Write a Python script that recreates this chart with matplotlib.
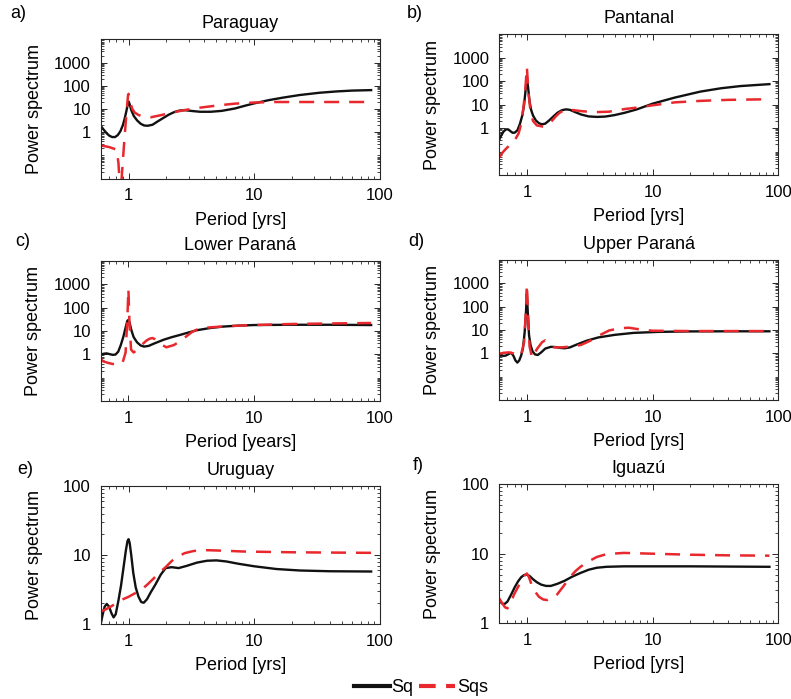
import matplotlib

matplotlib.use("Agg")
import matplotlib.pyplot as plt
from matplotlib.lines import Line2D
from matplotlib.ticker import LogLocator, NullFormatter

plt.rcParams["font.family"] = ["Liberation Sans", "DejaVu Sans"]

SQ_COLOR = "#111111"
SQS_COLOR = "#e8282d"

# a) Paraguay
PARAGUAY_SQ_PERIOD = [0.6, 0.62, 0.64, 0.67, 0.7, 0.74, 0.78, 0.82, 0.86, 0.9, 0.93, 0.96, 0.98,
                      1.0, 1.02, 1.05, 1.1, 1.17, 1.25, 1.33, 1.42, 1.55, 1.7, 1.9, 2.1, 2.3, 2.55,
                      2.8, 3.2, 3.7, 4.5, 5.5, 7, 8.5, 10, 13, 17, 23, 33, 45, 60, 85]
PARAGUAY_SQ = [1.9, 1.5, 1.2, 0.9, 0.72, 0.62, 0.62, 0.75, 1.1, 2.0, 3.8, 8, 14, 21, 16, 9, 5, 3.2,
               2.3, 1.95, 1.9, 2.1, 2.9, 4.2, 5.8, 7.3, 8.6, 8.9, 8.2, 7.6, 7.6, 8.3, 10.5, 14,
               17.5, 24, 31, 40, 50, 57, 62, 65]
PARAGUAY_SQS_PERIOD = [0.6, 0.7, 0.8, 0.83, 0.86, 0.88, 0.92, 0.96, 0.99, 1.0, 1.03, 1.07, 1.12,
                       1.2, 1.3, 1.5, 1.8, 2.2, 2.8, 3.5, 5, 7, 10, 15, 25, 40, 60, 85]
PARAGUAY_SQS = [0.27, 0.23, 0.18, 0.05, 0.002, 0.01, 0.3, 6, 40, 45, 20, 10, 7, 5.5, 4.8, 4.4, 5.4,
                7.0, 9.0, 11, 14, 17, 19, 20, 20, 20, 20, 20]

# b) Pantanal
PANTANAL_SQ_PERIOD = [0.6, 0.62, 0.65, 0.68, 0.71, 0.74, 0.77, 0.8, 0.84, 0.88, 0.92, 0.95, 0.98,
                      1.0, 1.02, 1.05, 1.08, 1.12, 1.18, 1.25, 1.32, 1.4, 1.5, 1.62, 1.75, 1.9,
                      2.05, 2.2, 2.4, 2.7, 3.1, 3.6, 4.2, 5, 6, 7.5, 10, 15, 24, 35, 50, 85]
PANTANAL_SQ = [0.3, 0.45, 0.7, 0.88, 0.88, 0.74, 0.63, 0.64, 0.8, 1.5, 3.5, 10, 50, 150, 60, 14, 6,
               3.4, 2.1, 1.6, 1.45, 1.55, 2.1, 3.1, 4.5, 5.8, 6.3, 6.0, 4.9, 3.8, 3.15, 3.0, 3.1,
               3.6, 4.5, 6.3, 11, 20, 36, 50, 62, 75]
PANTANAL_SQS_PERIOD = [0.6, 0.64, 0.68, 0.74, 0.8, 0.86, 0.9, 0.94, 0.97, 1.0, 1.03, 1.07, 1.12,
                       1.2, 1.35, 1.5, 1.6, 1.7, 1.82, 1.95, 2.1, 2.3, 2.8, 3.5, 4.5, 6, 8, 10,
                       15, 24, 40, 85]
PANTANAL_SQS = [0.055, 0.09, 0.13, 0.2, 0.3, 0.6, 1.5, 8, 40, 400, 30, 5, 2.0, 1.3, 1.15, 1.5, 2.2,
                3.2, 4.5, 5.6, 6.0, 5.9, 5.2, 4.8, 5.0, 6.5, 7.8, 9.4, 12.5, 14.5, 16, 17]

# c) Lower Paraná
LOWER_SQ_PERIOD = [0.6, 0.63, 0.67, 0.71, 0.75, 0.79, 0.83, 0.87, 0.91, 0.95, 0.98, 1.0, 1.02,
                   1.05, 1.1, 1.17, 1.25, 1.33, 1.45, 1.6, 1.9, 2.2, 2.6, 3.0, 3.5, 4.5, 5.7, 7.5,
                   10, 20, 40, 85]
LOWER_SQ = [0.95, 1.05, 1.1, 1.02, 0.95, 0.98, 1.3, 2.5, 5.5, 14, 27, 30, 24, 12, 5.5, 3.3, 2.4,
            2.15, 2.3, 2.9, 4.2, 5.4, 6.9, 8.6, 10.8, 13.5, 15.5, 17, 18, 18.5, 18.5, 18]
LOWER_SQS_PERIOD = [0.6, 0.63, 0.7, 0.78, 0.85, 0.9, 0.95, 0.98, 1.0, 1.02, 1.05, 1.1, 1.18, 1.25,
                    1.32, 1.4, 1.48, 1.55, 1.62, 1.7, 1.8, 2.0, 2.3, 2.6, 2.9, 3.2, 3.5, 4.2, 6,
                    10, 20, 40, 85]
LOWER_SQS = [0.65, 0.5, 0.42, 0.37, 0.36, 0.45, 1.2, 30, 630, 20, 1.6, 1.2, 1.6, 2.2, 3.0, 4.0,
             4.7, 5.0, 4.5, 3.6, 2.8, 2.0, 2.5, 3.8, 6, 9, 11.5, 14, 16, 18, 20, 21, 22]

# d) Upper Paraná
UPPER_SQ_PERIOD = [0.6, 0.62, 0.65, 0.68, 0.72, 0.75, 0.78, 0.81, 0.84, 0.87, 0.9, 0.93, 0.96,
                   0.98, 1.0, 1.02, 1.04, 1.07, 1.11, 1.16, 1.22, 1.3, 1.4, 1.55, 1.7, 1.85, 2.0,
                   2.2, 2.5, 3.0, 3.7, 5, 7, 11, 20, 40, 85]
UPPER_SQ = [0.78, 0.85, 0.78, 0.8, 0.95, 1.05, 0.8, 0.5, 0.4, 0.5, 0.8, 1.6, 8, 40, 360, 40, 6,
            2.2, 1.2, 0.9, 0.85, 1.1, 1.6, 1.9, 1.85, 1.7, 1.65, 1.8, 2.4, 3.5, 4.8, 6.2, 7.5,
            8.3, 8.7, 8.8, 8.8]
UPPER_SQS_PERIOD = [0.6, 0.65, 0.72, 0.78, 0.84, 0.9, 0.95, 0.98, 1.0, 1.02, 1.05, 1.1, 1.2, 1.32,
                    1.4, 1.5, 1.65, 1.9, 2.3, 2.7, 3.2, 3.8, 4.5, 5.5, 6.5, 8, 10, 20, 85]
UPPER_SQS = [0.95, 1.05, 1.1, 1.0, 0.75, 0.9, 3, 50, 900, 50, 2, 0.65, 1.5, 3.0, 3.6, 2.6, 1.8, 1.8,
             2.0, 2.3, 3.5, 6, 9.5, 12, 12.5, 10.5, 9.3, 9, 9]

# e) Uruguay
URUGUAY_SQ_PERIOD = [0.6, 0.62, 0.645, 0.67, 0.7, 0.73, 0.76, 0.79, 0.83, 0.87, 0.91, 0.95, 0.98,
                     1.0, 1.02, 1.05, 1.09, 1.14, 1.2, 1.26, 1.32, 1.4, 1.5, 1.64, 1.8, 1.97, 2.2,
                     2.5, 2.9, 3.5, 4.2, 5, 6, 7.5, 10, 15, 23, 40, 85]
URUGUAY_SQ = [1.0, 1.35, 1.8, 1.97, 1.8, 1.45, 1.26, 1.4, 2.2, 3.6, 6.5, 11.5, 16, 17, 15, 10, 5.5,
              3.4, 2.5, 2.1, 2.05, 2.3, 2.9, 3.8, 5.2, 6.5, 6.7, 6.5, 7.0, 7.8, 8.3, 8.4, 8.1,
              7.5, 6.9, 6.3, 6.0, 5.85, 5.8]
URUGUAY_SQS_PERIOD = [0.6, 0.66, 0.72, 0.81, 0.9, 1.0, 1.1, 1.25, 1.42, 1.64, 1.8, 1.97, 2.2, 2.44,
                      2.8, 3.3, 4.2, 5.7, 8, 10.6, 20, 40, 85]
URUGUAY_SQS = [1.52, 1.65, 1.8, 2.05, 2.3, 2.5, 2.75, 3.1, 3.8, 4.9, 5.8, 6.7, 8.2, 9.5, 10.7, 11.5,
               11.8, 11.6, 11.3, 11.2, 11.0, 10.9, 10.8]

# f) Iguazú
IGUAZU_SQ_PERIOD = [0.6, 0.63, 0.66, 0.7, 0.75, 0.8, 0.85, 0.9, 0.95, 1.0, 1.05, 1.12, 1.2, 1.3,
                    1.42, 1.55, 1.75, 2.0, 2.3, 2.67, 3.1, 3.6, 4.3, 5.9, 10, 20, 40, 85]
IGUAZU_SQ = [2.16, 1.95, 1.88, 2.05, 2.6, 3.3, 4.0, 4.6, 4.95, 5.0, 4.8, 4.3, 3.9, 3.6, 3.45, 3.45,
             3.7, 4.1, 4.7, 5.3, 5.9, 6.3, 6.5, 6.6, 6.6, 6.6, 6.55, 6.5]
IGUAZU_SQS_PERIOD = [0.6, 0.63, 0.67, 0.7, 0.74, 0.79, 0.84, 0.9, 0.95, 1.0, 1.04, 1.1, 1.17, 1.25,
                     1.35, 1.45, 1.6, 1.74, 1.95, 2.22, 2.45, 2.67, 3.1, 3.6, 4.3, 5.9, 10.7, 20,
                     40, 85]
IGUAZU_SQS = [2.3, 2.0, 1.7, 1.64, 1.9, 2.6, 3.2, 4.0, 4.8, 5.2, 4.6, 3.4, 2.8, 2.4, 2.2, 2.16, 2.3,
              2.6, 3.4, 4.7, 5.7, 6.5, 7.8, 9.0, 9.9, 10.3, 10.0, 9.7, 9.5, 9.4]

TITLES = ["Paraguay", "Pantanal", "Lower Paraná", "Upper Paraná", "Uruguay", "Iguazú"]
PANEL_LABELS = ["a)", "b)", "c)", "d)", "e)", "f)"]
XLABELS = ["Period [yrs]", "Period [yrs]", "Period [years]", "Period [yrs]", "Period [yrs]",
           "Period [yrs]"]
SQ_DATA = [
    (PARAGUAY_SQ_PERIOD, PARAGUAY_SQ),
    (PANTANAL_SQ_PERIOD, PANTANAL_SQ),
    (LOWER_SQ_PERIOD, LOWER_SQ),
    (UPPER_SQ_PERIOD, UPPER_SQ),
    (URUGUAY_SQ_PERIOD, URUGUAY_SQ),
    (IGUAZU_SQ_PERIOD, IGUAZU_SQ),
]
SQS_DATA = [
    (PARAGUAY_SQS_PERIOD, PARAGUAY_SQS),
    (PANTANAL_SQS_PERIOD, PANTANAL_SQS),
    (LOWER_SQS_PERIOD, LOWER_SQS),
    (UPPER_SQS_PERIOD, UPPER_SQS),
    (URUGUAY_SQS_PERIOD, URUGUAY_SQS),
    (IGUAZU_SQS_PERIOD, IGUAZU_SQS),
]
YTICKS_TOP = [1, 10, 100, 1000]
YTICKS_BOTTOM = [1, 10, 100]
XTICKS = [1, 10, 100]

W, H = 791, 699

# axes boxes in pixels: left, top, right, bottom
AX_BOXES = [
    (100.7, 39.3, 380, 178.7),
    (499, 34.3, 778.3, 175),
    (100.5, 261, 380, 401),
    (499, 260, 778.3, 400),
    (100.7, 486, 380, 624.3),
    (499, 484.3, 778.3, 623.3),
]
LABEL_POS = [(10, 13), (407, 13), (15, 242), (408, 241), (17, 469), (413, 466)]


def style_axes(ax, yticks):
    ax.set_xscale("log")
    ax.set_yscale("log")
    ax.set_xlim(0.6, 100)
    if len(yticks) == 4:
        ax.set_ylim(0.01, 1e4)
    else:
        ax.set_ylim(1, 100)

    ax.set_xticks(XTICKS, labels=[str(t) for t in XTICKS])
    ax.set_yticks(yticks, labels=[str(t) for t in yticks])
    ax.xaxis.set_minor_locator(LogLocator(base=10, subs=range(1, 10), numticks=20))
    ax.yaxis.set_minor_locator(LogLocator(base=10, subs=range(1, 10), numticks=20))
    ax.xaxis.set_minor_formatter(NullFormatter())
    ax.yaxis.set_minor_formatter(NullFormatter())

    ax.tick_params(which="both", direction="in", top=True, right=True,
                   colors="#262626", labelcolor="black", labelsize=12, pad=7)
    ax.tick_params(which="major", length=4, width=0.7)
    ax.tick_params(which="minor", length=2.5, width=0.6)
    for spine in ax.spines.values():
        spine.set_color("#262626")
        spine.set_linewidth(0.8)


def main():
    fig = plt.figure(figsize=(W / 100, H / 100), dpi=100)

    for i, (left, top, right, bottom) in enumerate(AX_BOXES):
        ax = fig.add_axes([left / W, 1 - bottom / H, (right - left) / W, (bottom - top) / H])
        yticks = YTICKS_TOP if i < 4 else YTICKS_BOTTOM

        ax.plot(*SQ_DATA[i], color=SQ_COLOR, linewidth=1.7)
        ax.plot(*SQS_DATA[i], color=SQS_COLOR, linewidth=1.8, linestyle=(0, (6, 4)))

        style_axes(ax, yticks)
        ax.set_title(TITLES[i], fontsize=13, pad=8)
        ax.set_xlabel(XLABELS[i], fontsize=13, labelpad=6)
        ax.set_ylabel("Power spectrum", fontsize=13)
        # the y label sits at the same distance from the spine in every panel
        ax.yaxis.set_label_coords(-58 / (right - left), 0.5)

        lx, ly = LABEL_POS[i]
        fig.text(lx / W, 1 - ly / H, PANEL_LABELS[i], fontsize=13, va="center", ha="left")

    handles = [
        Line2D([], [], color=SQ_COLOR, linewidth=3),
        Line2D([], [], color=SQS_COLOR, linewidth=3, linestyle=(0, (4, 2.5))),
    ]
    fig.legend(handles, ["Sq", "Sqs"], loc="center", bbox_to_anchor=(0.532, 0.016), ncol=2,
               frameon=False, fontsize=13, handlelength=2.0, handletextpad=0.1,
               columnspacing=0.3)

    fig.savefig("out.png", dpi=100)
    plt.close(fig)


if __name__ == "__main__":
    main()
